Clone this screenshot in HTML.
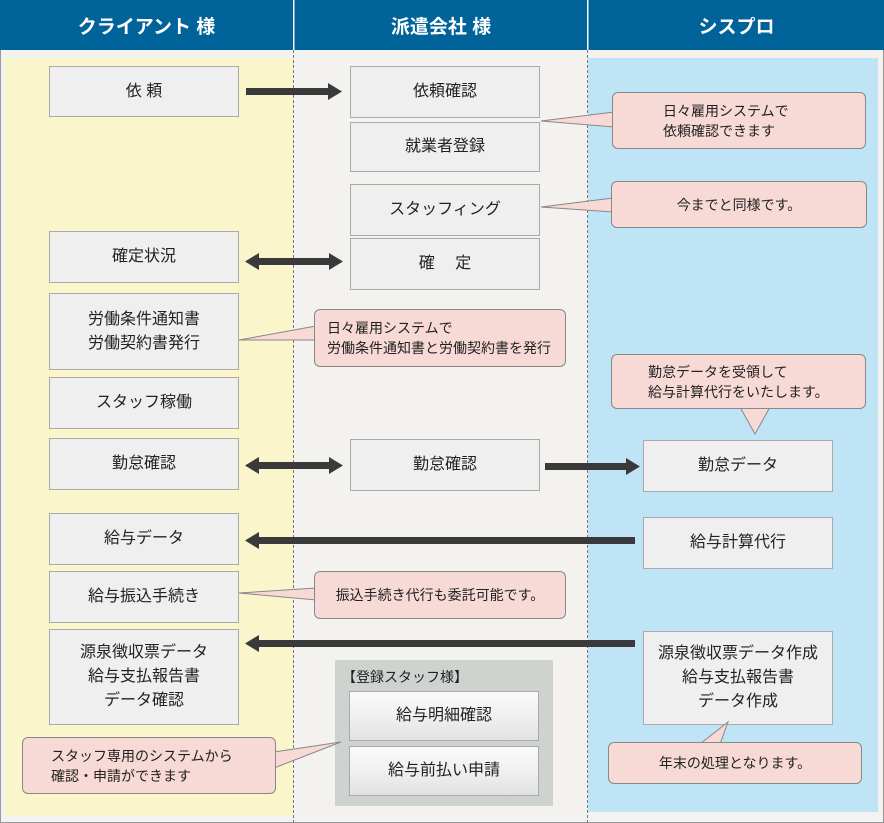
<!DOCTYPE html>
<html><head><meta charset="utf-8"><style>
body{margin:0;width:884px;height:823px;position:relative;background:#fff;font-family:"Liberation Sans","Noto Sans CJK JP",sans-serif;overflow:hidden}
.a{position:absolute;box-sizing:border-box}
.hd{top:0;height:50px;background:#00639a;color:#fff;font-size:19px;font-weight:bold;display:flex;align-items:center;justify-content:center}
.bx{background:#efefef;border:1px solid #aaa;display:flex;align-items:center;justify-content:center;text-align:center;font-size:16px;color:#222;line-height:24px}
.gb{background:linear-gradient(#fafafa,#f0f0f0 50%,#e2e2e2);}
.c{font-size:14px;color:#222;line-height:20px;display:flex;align-items:center}
</style></head><body>
<div class="a" style="left:0;top:50px;width:884px;height:773px;background:#f3f2ef;border:1px solid #999;border-top:none"></div>
<div class="a" style="left:5px;top:58px;width:288px;height:758px;background:#faf5cb"></div>
<div class="a" style="left:588px;top:58px;width:290px;height:754px;background:#bee4f6"></div>
<div class="a" style="left:293px;top:50px;height:773px;border-left:1px dashed #777"></div>
<div class="a" style="left:587px;top:50px;height:773px;border-left:1px dashed #777"></div>
<div class="a hd" style="left:0;width:293px">クライアント 様</div>
<div class="a hd" style="left:294px;width:293px;border-left:1px solid #7fa9c9">派遣会社 様</div>
<div class="a hd" style="left:588px;width:296px;border-left:1px solid #7fa9c9">シスプロ</div>

<div class="a bx" style="left:49px;top:66px;width:190px;height:51px">依 頼</div>
<div class="a bx" style="left:350px;top:66px;width:190px;height:52px">依頼確認</div>
<div class="a bx" style="left:350px;top:122px;width:190px;height:50px">就業者登録</div>
<div class="a bx" style="left:350px;top:184px;width:190px;height:52px">スタッフィング</div>
<div class="a bx" style="left:350px;top:238px;width:190px;height:52px">確　 定</div>
<div class="a bx" style="left:49px;top:231px;width:190px;height:52px">確定状況</div>
<div class="a bx" style="left:49px;top:293px;width:190px;height:77px">労働条件通知書<br>労働契約書発行</div>
<div class="a bx" style="left:49px;top:377px;width:190px;height:52px">スタッフ稼働</div>
<div class="a bx" style="left:49px;top:438px;width:190px;height:52px">勤怠確認</div>
<div class="a bx" style="left:350px;top:439px;width:190px;height:52px">勤怠確認</div>
<div class="a bx" style="left:643px;top:440px;width:190px;height:52px">勤怠データ</div>
<div class="a bx" style="left:49px;top:513px;width:190px;height:52px">給与データ</div>
<div class="a bx" style="left:643px;top:517px;width:190px;height:52px">給与計算代行</div>
<div class="a bx" style="left:49px;top:571px;width:190px;height:52px">給与振込手続き</div>
<div class="a bx" style="left:49px;top:629px;width:190px;height:96px">源泉徴収票データ<br>給与支払報告書<br>データ確認</div>
<div class="a bx" style="left:643px;top:631px;width:190px;height:94px">源泉徴収票データ作成<br>給与支払報告書<br>データ作成</div>

<div class="a" style="left:335px;top:660px;width:218px;height:146px;background:#cfd3d0"></div>
<div class="a" style="left:342px;top:667px;font-size:14px;color:#222">【登録スタッフ様】</div>
<div class="a bx gb" style="left:349px;top:691px;width:190px;height:50px">給与明細確認</div>
<div class="a bx gb" style="left:349px;top:746px;width:190px;height:50px">給与前払い申請</div>

<svg class="a" style="left:0;top:0" width="884" height="823">
<g fill="#3a3a3a">
<rect x="246" y="88" width="84" height="7"/><polygon points="328,83 342,91.5 328,100"/>
<rect x="258" y="258" width="72" height="7"/><polygon points="259,253 245,261.5 259,270"/><polygon points="329,253 343,261.5 329,270"/>
<rect x="258" y="462" width="72" height="7"/><polygon points="259,457 245,465.5 259,474"/><polygon points="329,457 343,465.5 329,474"/>
<rect x="545" y="463" width="82" height="7"/><polygon points="626,458 640,466.5 626,475"/>
<rect x="258" y="537" width="377" height="7"/><polygon points="259,532 245,540.5 259,549"/>
<rect x="258" y="640" width="377" height="7"/><polygon points="259,635 245,643.5 259,652"/>
</g>
<g fill="#f7d9d6" stroke="#888" stroke-width="1">
<polygon points="614,112 541,121 614,127"/>
<polygon points="613,198 541,207 613,212"/>
<polygon points="316,326 239,340 316,340"/>
<polygon points="740,407 755,434 770,407"/>
<polygon points="316,588 239,593 316,600"/>
<polygon points="274,752 341,742 274,768"/>
<polygon points="700,744 728,722 720,744"/>
</g>
</svg>
<div class="a c" style="left:612px;top:92px;width:254px;height:57px;background:#f7d9d6;border:1px solid #888;border-radius:6px;padding-left:50px">日々雇用システムで<br>依頼確認できます</div>
<div class="a c" style="left:611px;top:181px;width:256px;height:47px;background:#f7d9d6;border:1px solid #888;border-radius:6px;justify-content:center">今までと同様です。</div>
<div class="a c" style="left:314px;top:309px;width:252px;height:58px;background:#f7d9d6;border:1px solid #888;border-radius:6px;padding-left:12px;white-space:nowrap">日々雇用システムで<br>労働条件通知書と労働契約書を発行</div>
<div class="a c" style="left:611px;top:354px;width:255px;height:55px;background:#f7d9d6;border:1px solid #888;border-radius:6px;padding-left:36px">勤怠データを受領して<br>給与計算代行をいたします。</div>
<div class="a c" style="left:314px;top:571px;width:252px;height:48px;background:#f7d9d6;border:1px solid #888;border-radius:6px;justify-content:center">振込手続き代行も委託可能です。</div>
<div class="a c" style="left:22px;top:737px;width:254px;height:57px;background:#f7d9d6;border:1px solid #888;border-radius:6px;padding-left:28px">スタッフ専用のシステムから<br>確認・申請ができます</div>
<div class="a c" style="left:608px;top:742px;width:254px;height:42px;background:#f7d9d6;border:1px solid #888;border-radius:6px;justify-content:center">年末の処理となります。</div>
</body></html>
